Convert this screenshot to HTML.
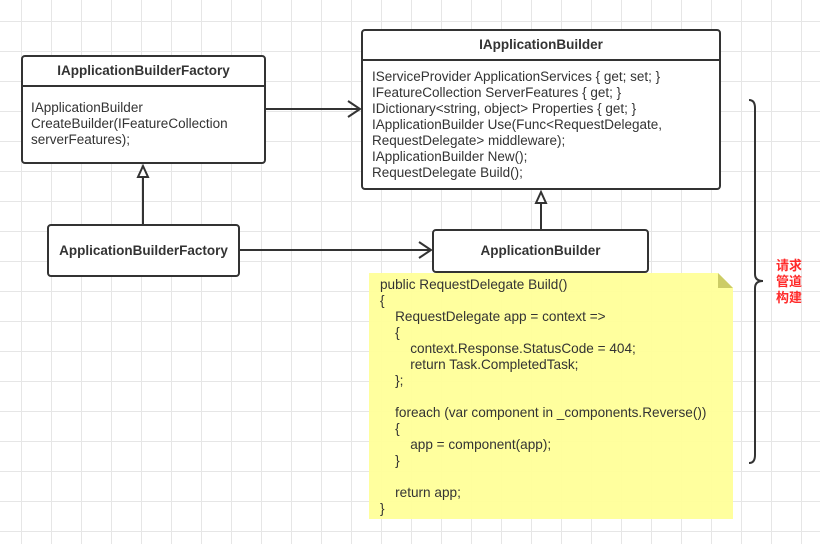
<!DOCTYPE html>
<html><head><meta charset="utf-8"><style>
body{margin:0;width:820px;height:544px;overflow:hidden;background:#fff;position:relative;font-family:"Liberation Sans","Noto Sans CJK SC",sans-serif;color:#333;
background-image:linear-gradient(#e6e6e6 1px,transparent 1px),linear-gradient(90deg,#e6e6e6 1px,transparent 1px);background-size:30px 30px;background-position:21px 21px;}
.box{position:absolute;border:2px solid #333;border-radius:4px;background:#fff;box-sizing:border-box}
.hd{font-weight:bold;font-size:13.5px;text-align:center;border-bottom:2px solid #333;box-sizing:border-box}
.bd{font-size:13.5px;line-height:16px;padding:6px 8px;white-space:pre}
.t{position:absolute;white-space:pre;font-size:13.6px;line-height:16px}
</style></head><body>
<div class="box" style="left:21px;top:55px;width:245px;height:109px">
<div class="hd" style="height:30px;line-height:28px">IApplicationBuilderFactory</div>
<div class="bd" style="padding-top:13px">IApplicationBuilder
CreateBuilder(IFeatureCollection
serverFeatures);</div></div>
<div class="box" style="left:361px;top:29px;width:360px;height:161px">
<div class="hd" style="height:30px;line-height:28px">IApplicationBuilder</div>
<div class="bd" style="padding-top:8px;padding-left:9px">IServiceProvider ApplicationServices { get; set; }
IFeatureCollection ServerFeatures { get; }
IDictionary&lt;string, object&gt; Properties { get; }
IApplicationBuilder Use(Func&lt;RequestDelegate,
RequestDelegate&gt; middleware);
IApplicationBuilder New();
RequestDelegate Build();</div></div>
<div class="box" style="left:47px;top:224px;width:193px;height:53px;font-weight:bold;font-size:13.5px;text-align:center;line-height:49px">ApplicationBuilderFactory</div>
<div class="box" style="left:432px;top:229px;width:217px;height:44px;font-weight:bold;font-size:13.5px;text-align:center;line-height:40px">ApplicationBuilder</div>
<svg style="position:absolute;left:0;top:0" width="820" height="544">
<polygon points="369,273 718,273 733,288 733,519 369,519" fill="#ffff99" opacity="0.95"/>
<polygon points="718,273 733,288 718,288" fill="#cccc66"/>
<g stroke="#333" stroke-width="2" fill="none">
<line x1="266" y1="109" x2="360" y2="109"/><polyline points="348,101 360,109 348,117"/>
<line x1="240" y1="250" x2="431" y2="250"/><polyline points="419,242 431,250 419,258"/>
<line x1="143" y1="224" x2="143" y2="176"/><polygon points="143,166 138,177 148,177" fill="#fff"/>
<line x1="541" y1="229" x2="541" y2="202"/><polygon points="541,192 536,203 546,203" fill="#fff"/>
<path d="M749,100 Q755,100 755,108 L755,274 Q755,281 763,281 Q755,281 755,288 L755,455 Q755,463 749,463"/>
</g></svg>
<div class="t" style="left:380px;top:277px">public RequestDelegate Build()
{
    RequestDelegate app = context =&gt;
    {
        context.Response.StatusCode = 404;
        return Task.CompletedTask;
    };

    foreach (var component in _components.Reverse())
    {
        app = component(app);
    }

    return app;
}</div>
<div class="t" style="left:776px;top:258px;color:#ff2a2a;font-size:13px;line-height:16px;font-weight:bold">请求
管道
构建</div>
</body></html>
